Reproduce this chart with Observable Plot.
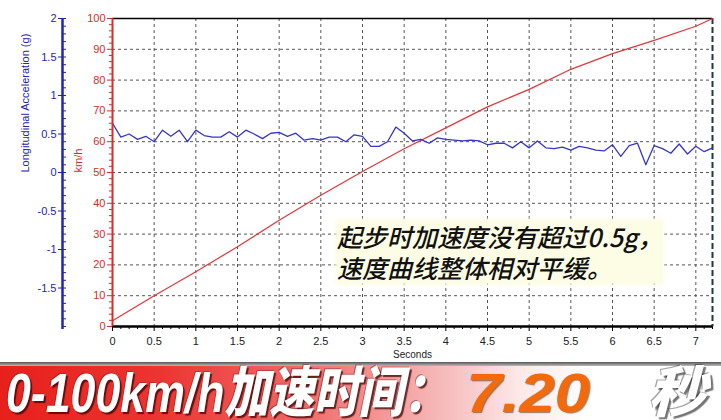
<!DOCTYPE html>
<html><head><meta charset="utf-8">
<script src="https://cdn.jsdelivr.net/npm/d3@7"></script>
<script src="https://cdn.jsdelivr.net/npm/@observablehq/plot@0.6"></script>
<style>
html,body{margin:0;padding:0;background:#fff;}
#wrap{position:relative;width:721px;height:420px;overflow:hidden;font-family:"Liberation Sans",Arial,sans-serif;}
#wrap svg{display:block;}
#note{position:absolute;left:337px;top:221px;font:italic 500 25px/31px "Noto Sans CJK SC",sans-serif;color:#111;background:#fdfde6;box-shadow:0 0 4px 2px #fdfde6;white-space:nowrap;}
#banner{position:absolute;left:0;top:362px;width:721px;height:58px;overflow:hidden;background:linear-gradient(to right,#e8201c 0%,#ec3430 22%,#f06a68 42%,#f6b4b4 60%,#fde8e8 72%,#fff 82%,#fff 100%);}
#banner .strip{position:absolute;left:0;top:0;width:100%;height:4px;background:linear-gradient(#555,#bbb);}
.bt{position:absolute;top:6px;font:italic 900 50px/46px "Liberation Sans","Noto Sans CJK SC",sans-serif;white-space:nowrap;transform-origin:0 0;}
</style></head><body><div id="wrap"></div>
<script>
// ---- data ----
const accTime = [0,0.1,0.2,0.3,0.4,0.5,0.6,0.7,0.8,0.9,1.0,1.1,1.2,1.3,1.4,1.5,1.6,1.7,1.8,1.9,2.0,2.1,2.2,2.3,2.4,2.5,2.6,2.7,2.8,2.9,3.0,3.1,3.2,3.3,3.4,3.5,3.6,3.7,3.8,3.9,4.0,4.1,4.2,4.3,4.4,4.5,4.6,4.7,4.8,4.9,5.0,5.1,5.2,5.3,5.4,5.5,5.6,5.7,5.8,5.9,6.0,6.1,6.2,6.3,6.4,6.5,6.6,6.7,6.8,6.9,7.0,7.1,7.2];
const accG = [0.64,0.46,0.50,0.43,0.47,0.40,0.55,0.47,0.55,0.40,0.55,0.48,0.46,0.46,0.53,0.46,0.55,0.50,0.44,0.51,0.52,0.47,0.51,0.42,0.44,0.42,0.46,0.46,0.40,0.49,0.47,0.34,0.34,0.40,0.59,0.51,0.41,0.43,0.38,0.45,0.43,0.42,0.41,0.42,0.41,0.36,0.38,0.38,0.32,0.40,0.32,0.41,0.32,0.31,0.33,0.29,0.34,0.32,0.29,0.28,0.36,0.21,0.35,0.38,0.10,0.35,0.31,0.25,0.37,0.24,0.34,0.27,0.32];
const speedTime = [0,0.5,1,1.5,2,2.5,3,3.5,4,4.5,5,5.5,6,6.5,7,7.2];
const speedKmh = [1.9,10,17.8,25.9,34.5,42.6,50.3,57.7,64.5,71.3,77,83.5,88.6,92.9,97.5,100];
const xTicks = [0,0.5,1,1.5,2,2.5,3,3.5,4,4.5,5,5.5,6,6.5,7];
const kmhTicks = [0,10,20,30,40,50,60,70,80,90,100];
const gTicks = [-1.5,-1,-0.5,0,0.5,1,1.5,2];
const titleText = "0-100km/h加速时间：";
const timeText = "7.20";
const unitText = "秒";
const noteLines = ["起步时加速度没有超过0.5g，", "速度曲线整体相对平缓。"];

// ---- build ----
const acc = accTime.map((t, i) => ({t, g: accG[i]}));
const speed = speedTime.map((t, i) => ({t, v: speedKmh[i]}));
const gToKmh = g => 50 + 25 * g;       // left axis: -2..2 g spans the 0..100 km/h range
const kmhToG = v => (v - 50) / 25;
const RED = "#dc2a28", BLUE = "#2424b4";
const xMinor = d3.range(0, 7.21, 0.1).filter(d => Math.abs(d * 2 - Math.round(d * 2)) > 1e-6);
const kmhMinor = d3.range(0, 100.1, 2).filter(d => d % 10 !== 0);
const gMinor = d3.range(-2, 2.01, 0.1).map(gToKmh);
const grid = {stroke: "#555", strokeOpacity: 1, strokeDasharray: "3,3", strokeWidth: 1};

const chart = Plot.plot({
  width: 721, height: 362,
  marginTop: 18, marginLeft: 112, marginRight: 9, marginBottom: 36,
  style: {fontFamily: "Liberation Sans, Arial, sans-serif", fontSize: "11px", background: "transparent", overflow: "visible"},
  x: {domain: [0, 7.2], axis: null},
  y: {domain: [0, 100], axis: null},
  marks: [
    Plot.gridX(xTicks.filter(d => d > 0), grid),
    Plot.gridY(kmhTicks.filter(d => d > 0 && d < 100), grid),
    Plot.ruleY([100], {stroke: "#000", strokeWidth: 1.5}),
    Plot.ruleX([7.2], {stroke: "#1c3c3c", strokeWidth: 2, strokeDasharray: "6,3"}),
    Plot.line(speed, {x: "t", y: "v", stroke: "#e0383a", strokeWidth: 1.2}),
    Plot.line(acc, {x: "t", y: d => gToKmh(d.g), stroke: "#3636c8", strokeWidth: 1.3}),
    // x axis
    Plot.ruleY([0], {stroke: "#000", strokeWidth: 2.5}),
    Plot.axisX(xMinor, {label: null, tickSize: 3, tickFormat: () => "", stroke: "#000"}),
    Plot.axisX(xTicks, {label: null, tickSize: 5, tickPadding: 6, stroke: "#000", fill: "#222", tickFormat: d => String(d)}),
    Plot.text(["Seconds"], {frameAnchor: "bottom", dy: 31, fill: "#222", fontSize: 10}),
    // red km/h axis
    Plot.ruleX([0], {stroke: RED, strokeWidth: 2}),
    Plot.axisY(kmhMinor, {label: null, anchor: "left", tickSize: 3, tickFormat: () => "", stroke: RED}),
    Plot.axisY(kmhTicks, {label: null, anchor: "left", tickSize: 5, tickPadding: 2, stroke: RED, fill: RED, tickFormat: d => String(d)}),
    Plot.text(["km/h"], {frameAnchor: "left", dx: -34, rotate: -90, fill: RED, fontSize: 11}),
    // blue g axis
    Plot.ruleX([0], {dx: -50, y1: -1, y2: 100, stroke: BLUE, strokeWidth: 2.5}),
    Plot.axisY(gMinor, {label: null, anchor: "right", dx: -650, tickSize: 3, tickFormat: () => "", stroke: BLUE}),
    Plot.axisY(gTicks.map(gToKmh), {label: null, anchor: "left", dx: -50, tickSize: 4, tickPadding: 2, stroke: BLUE, fill: BLUE, tickFormat: d => String(+kmhToG(d).toFixed(1))}),
    Plot.text(["Longitudinal Acceleration (g)"], {frameAnchor: "left", dx: -87, rotate: -90, fill: BLUE, fontSize: 11})
  ]
});
const wrap = document.getElementById("wrap");
wrap.appendChild(chart);

const note = document.createElement("div");
note.id = "note";
note.innerHTML = noteLines.join("<br>");
wrap.appendChild(note);

const banner = document.createElement("div");
banner.id = "banner";
banner.innerHTML = '<div class="strip"></div>';
wrap.appendChild(banner);
function addText(txt, left, width, color, shadow) {
  const s = document.createElement("span");
  s.className = "bt";
  s.textContent = txt;
  s.style.left = left + "px";
  s.style.color = color;
  s.style.textShadow = shadow;
  banner.appendChild(s);
  const w = s.getBoundingClientRect().width;
  s.style.transform = `scale(${width / w}, 1.1)`;
}
addText(titleText, 6, 442, "#fff", "2px 2px 1px rgba(60,0,0,0.75), -1px -1px 0 rgba(120,40,40,0.5)");
addText(timeText, 466, 124, "#f26a0c", "1px 1px 1px rgba(90,40,0,0.6)");
addText(unitText, 648, 58, "#fff", "2px 2px 1px rgba(0,0,0,0.55), -1px -1px 0 rgba(0,0,0,0.35)");
</script></body></html>
